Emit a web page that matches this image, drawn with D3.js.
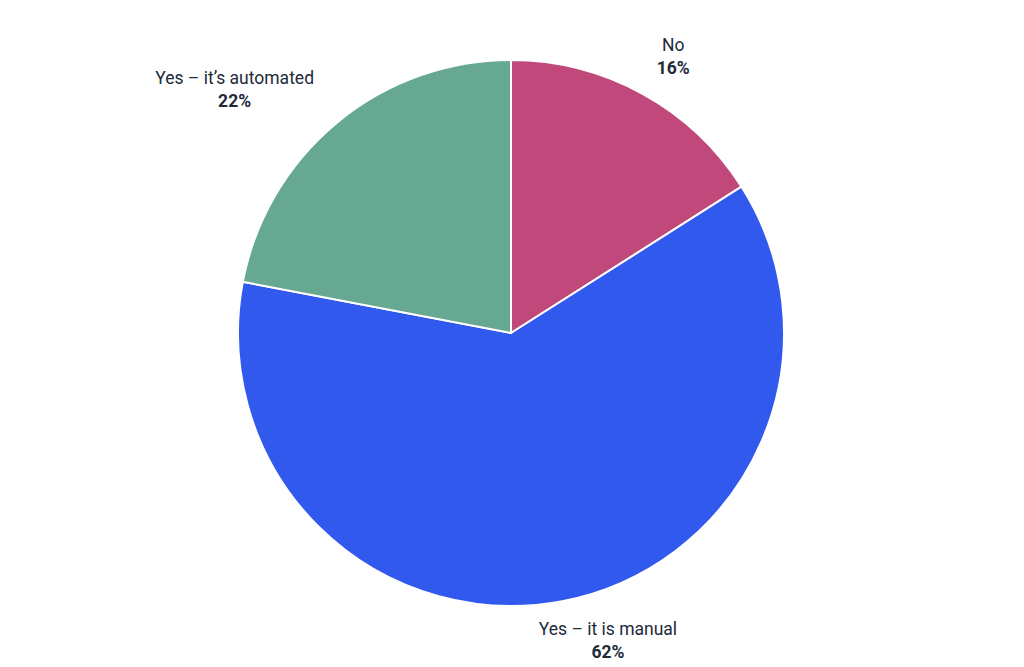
<!DOCTYPE html>
<html><head><meta charset="utf-8">
<script src="https://cdn.jsdelivr.net/npm/d3@7"></script>
<style>body{margin:0;background:#fff}text{font-family:Roboto,sans-serif;font-size:17.5px;fill:#222a3a}</style>
</head><body><svg width="1024" height="667"></svg>
<script>
const categories=["No","Yes – it is manual","Yes – it’s automated"];
const values=[16,62,22];
const colors=["#C0487A","#3259EE","#67A893"];
const svg=d3.select("svg"),cx=511,cy=333,r=273;
const pie=d3.pie().sort(null).value(d=>d)(values);
const g=svg.append("g").attr("transform",`translate(${cx},${cy})`);
g.selectAll("path").data(pie).join("path")
 .attr("d",d3.arc().innerRadius(0).outerRadius(r))
 .attr("fill",(d,i)=>colors[i]).attr("stroke","#fff").attr("stroke-width",2);
const la=d3.arc().innerRadius(320).outerRadius(320);
pie.forEach((d,i)=>{
  let [x,y]=la.centroid(d);
  const t=g.append("g");
  t.append("text").attr("text-anchor","middle").attr("y",-4).text(categories[i]);
  t.append("text").attr("text-anchor","middle").attr("y",19).style("font-weight","bold").text(values[i]+"%");
  const w=t.node().getBBox().width;
  let dx;
  if(y>200){dx=x+37;y=y-10;}
  else dx=x<-50?x-w/2+7:x+(x>50?8:0);
  t.attr("transform",`translate(${dx},${y+2})`);
});
</script></body></html>
